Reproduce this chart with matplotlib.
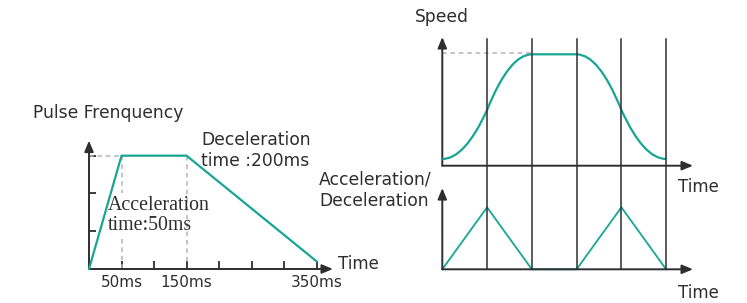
import matplotlib
matplotlib.use("Agg")
import matplotlib.pyplot as plt
from matplotlib.path import Path
from matplotlib.patches import PathPatch

# ---------------- data ----------------
# Left chart: pulse frequency trapezoid
pulse_t = [0, 50, 150, 350]          # ms
pulse_f = [0, 3, 3, 0.2]             # arbitrary units
pulse_xticks = [50, 100, 150, 200, 250, 300, 350]
pulse_xlabels = ["50ms", "150ms", "350ms"]
pulse_xlabel_pos = [50, 150, 350]
pulse_yticks = [1, 2, 3]

# Right chart: S-curve speed (knots + quadratic Bezier handles)
speed_knot_t = [0, 1, 2, 3, 4, 5]
speed_knot_v = [0.06, 0.5, 1.0, 1.0, 0.5, 0.06]
speed_handle_t = [0.5, 1.5, None, 3.5, 4.5]
speed_handle_v = [0.06, 1.0, None, 1.0, 0.06]

# Acceleration / deceleration triangles
acc_t = [0, 1, 2, 3, 4, 5]
acc_v = [0, 1, 0, 0, 1, 0]
grid_t = [1, 2, 3, 4, 5]

TEAL = "#17a596"
DARK = "#2e2e2e"
GRAY = "#b5b5b5"
W, H = 747, 303

fig = plt.figure(figsize=(W / 100, H / 100), dpi=100)
fig.patch.set_facecolor("white")


def add_axes_px(left, bottom_px, width, height):
    # bottom_px: pixel y (from top) of the axes bottom
    return fig.add_axes([left / W, (H - bottom_px) / H, width / W, height / H])


def ftext(x, y, s, **kw):
    fig.text(x / W, 1 - y / H, s, **kw)


def arrow(ax, x0, y0, x1, y1):
    ax.annotate("", xy=(x1, y1), xytext=(x0, y0),
                arrowprops=dict(arrowstyle="-|>,head_length=0.65,head_width=0.27",
                                color=DARK, lw=1.4, shrinkA=0, shrinkB=0),
                annotation_clip=False, zorder=4)


# ---------------- left chart ----------------
pxms = 0.6506
ax1 = add_axes_px(89, 269, 375 * pxms, 3.4 * 37.77)
ax1.set_xlim(0, 375)
ax1.set_ylim(0, 3.4)
ax1.axis("off")
arrow(ax1, 0, 0, 375, 0)
arrow(ax1, 0, 0, 0, 3.4)
for t in pulse_xticks:
    ax1.plot([t, t], [0, 0.22], color=DARK, lw=1.3, clip_on=False, solid_capstyle="butt")
for v in pulse_yticks:
    ax1.plot([0, 11], [v, v], color=DARK, lw=1.3, clip_on=False, solid_capstyle="butt")
ax1.plot([0, pulse_t[1]], [pulse_f[1], pulse_f[1]], ls=(0, (3, 2.5)), color=GRAY, lw=1.1)
ax1.plot([pulse_t[1], pulse_t[1]], [pulse_f[1], 2.0], ls=(0, (3, 2.5)), color=GRAY, lw=1.1)
ax1.plot([pulse_t[1], pulse_t[1]], [0.8, 0], ls=(0, (3, 2.5)), color=GRAY, lw=1.1)
ax1.plot([pulse_t[2], pulse_t[2]], [pulse_f[2], 0.1], ls=(0, (3, 2.5)), color=GRAY, lw=1.1)
ax1.plot(pulse_t, pulse_f, color=TEAL, lw=1.6, clip_on=False, zorder=5)
for t, lab in zip(pulse_xlabel_pos, pulse_xlabels):
    ax1.text(t, -0.37, lab, ha="center", va="center", fontsize=11, color=DARK)

ftext(33, 113, "Pulse Frenquency", fontsize=12.3, color=DARK, va="center")
ftext(201, 140, "Deceleration", fontsize=12.3, color=DARK, va="center")
ftext(201, 161, "time :200ms", fontsize=12.3, color=DARK, va="center")
ftext(108, 205, "Acceleration", fontsize=14.3, family="Liberation Serif", color=DARK, va="center")
ftext(108, 226, "time:50ms", fontsize=14.3, family="Liberation Serif", color=DARK, va="center")
ftext(338, 264, "Time", fontsize=12, color=DARK, va="center")

# ---------------- right charts ----------------
pxt = 44.77
ax2 = add_axes_px(442.3, 165.7, 5.6 * pxt, 1.155 * 111.4)
ax2.set_xlim(0, 5.6)
ax2.set_ylim(0, 1.155)
ax2.axis("off")
arrow(ax2, 0, 0, 5.6, 0)
arrow(ax2, 0, 0, 0, 1.155)
ax2.plot([0, speed_knot_t[2]], [speed_knot_v[2] + 0.01] * 2, ls=(0, (3, 2.5)), color=GRAY, lw=1.1)

verts = [(speed_knot_t[0], speed_knot_v[0])]
codes = [Path.MOVETO]
for i in range(len(speed_knot_t) - 1):
    if speed_handle_t[i] is None:
        verts.append((speed_knot_t[i + 1], speed_knot_v[i + 1]))
        codes.append(Path.LINETO)
    else:
        verts += [(speed_handle_t[i], speed_handle_v[i]), (speed_knot_t[i + 1], speed_knot_v[i + 1])]
        codes += [Path.CURVE3, Path.CURVE3]
ax2.add_patch(PathPatch(Path(verts, codes), fill=False, edgecolor=TEAL, lw=1.6, zorder=5))

ax3 = add_axes_px(442.3, 269.3, 5.6 * pxt, 1.31 * 62)
ax3.set_xlim(0, 5.6)
ax3.set_ylim(0, 1.31)
ax3.axis("off")
arrow(ax3, 0, 0, 5.6, 0)
arrow(ax3, 0, 0, 0, 1.31)
top = (269.3 - 39) / 62
for t in grid_t:
    ax3.plot([t, t], [0, top], color=DARK, lw=1.1, clip_on=False, zorder=3)
ax3.plot(acc_t, acc_v, color=TEAL, lw=1.3, zorder=2, clip_on=False)

ftext(415, 17, "Speed", fontsize=12.3, color=DARK, va="center")
ftext(319, 180, "Acceleration/", fontsize=12.3, color=DARK, va="center")
ftext(319, 201, "Deceleration", fontsize=12.3, color=DARK, va="center")
ftext(678, 187, "Time", fontsize=12, color=DARK, va="center")
ftext(678, 293, "Time", fontsize=12, color=DARK, va="center")

fig.savefig("out.png", dpi=100, facecolor="white")
